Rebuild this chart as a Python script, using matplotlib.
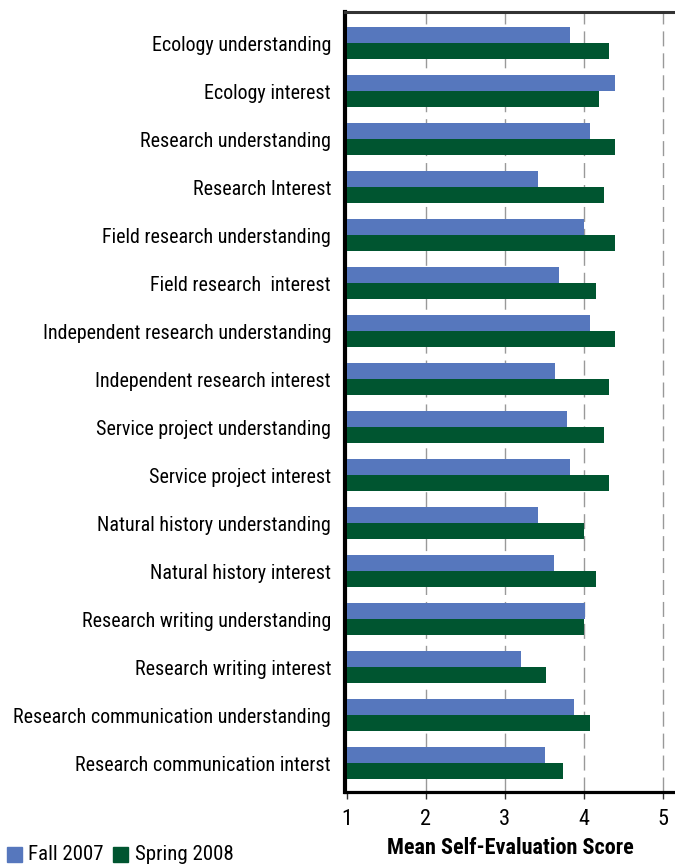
import matplotlib.pyplot as plt
import numpy as np
from matplotlib import font_manager
from matplotlib.patches import Rectangle

# prefer a condensed face if one happens to be installed
names = {f.name for f in font_manager.fontManager.ttflist}
narrow = [n for n in ['Roboto Condensed', 'Liberation Sans Narrow', 'Open Sans Condensed']
          if n in names]
if narrow:
    plt.rcParams['font.family'] = [narrow[0], 'DejaVu Sans']
    label_size = 14.4
else:
    plt.rcParams['font.family'] = ['Roboto', 'DejaVu Sans']
    label_size = 12.4

categories = [
    "Ecology understanding",
    "Ecology interest",
    "Research understanding",
    "Research Interest",
    "Field research understanding",
    "Field research  interest",
    "Independent research understanding",
    "Independent research interest",
    "Service project understanding",
    "Service project interest",
    "Natural history understanding",
    "Natural history interest",
    "Research writing understanding",
    "Research writing interest",
    "Research communication understanding",
    "Research communication interst",
]
fall_2007 = [3.82, 4.39, 4.07, 3.42, 4.00, 3.68, 4.07, 3.64,
             3.78, 3.82, 3.42, 3.62, 4.01, 3.20, 3.87, 3.51]
spring_2008 = [4.32, 4.19, 4.39, 4.25, 4.39, 4.15, 4.39, 4.32,
               4.25, 4.32, 4.00, 4.15, 4.00, 3.52, 4.07, 3.73]
xticks = [1, 2, 3, 4, 5]

blue = "#5677bd"
green = "#005530"

fig = plt.figure(figsize=(6.75, 8.65), dpi=100)
ax = fig.add_axes([0.511, 0.0844, 0.489, 0.9016])

y = np.arange(len(categories))
h = 0.333
ax.barh(y - h / 2, np.array(fall_2007) - 1, height=h, left=1, color=blue, zorder=3)
ax.barh(y + h / 2, np.array(spring_2008) - 1, height=h, left=1, color=green, zorder=3)

ax.set_xlim(0.98, 5.15)
ax.set_ylim(15.6, -0.65)
ax.set_xticks(xticks)
ax.set_xticklabels([str(t) for t in xticks], fontsize=16)
ax.set_yticks(y)
ax.set_yticklabels(categories, fontsize=label_size)
ax.tick_params(axis='y', length=0, pad=10)
ax.tick_params(axis='x', length=5, width=1, color='#333333', pad=7)

for t in xticks[1:]:
    ax.axvline(t, color='#999999', linewidth=1.0, linestyle=(0, (10.8, 5)), zorder=1)

ax.spines['right'].set_visible(False)
ax.spines['left'].set_linewidth(3)
ax.spines['left'].set_color('black')
ax.spines['bottom'].set_linewidth(2.3)
ax.spines['bottom'].set_color('black')
ax.spines['top'].set_linewidth(2.2)
ax.spines['top'].set_color('#333333')

ax.set_xlabel("Mean Self-Evaluation Score", fontsize=16, fontweight='bold', labelpad=5)

# legend in lower left corner
fig.patches.append(Rectangle((7 / 675, 1 - 862 / 865), 15 / 675, 15 / 865,
                             transform=fig.transFigure, color=blue))
fig.text(28 / 675, 1 - 854 / 865, "Fall 2007", fontsize=label_size + 0.6, va='center')
fig.patches.append(Rectangle((113 / 675, 1 - 862 / 865), 15 / 675, 15 / 865,
                             transform=fig.transFigure, color=green))
fig.text(135 / 675, 1 - 854 / 865, "Spring 2008", fontsize=label_size + 0.6, va='center')

fig.savefig("out.png", dpi=100)
